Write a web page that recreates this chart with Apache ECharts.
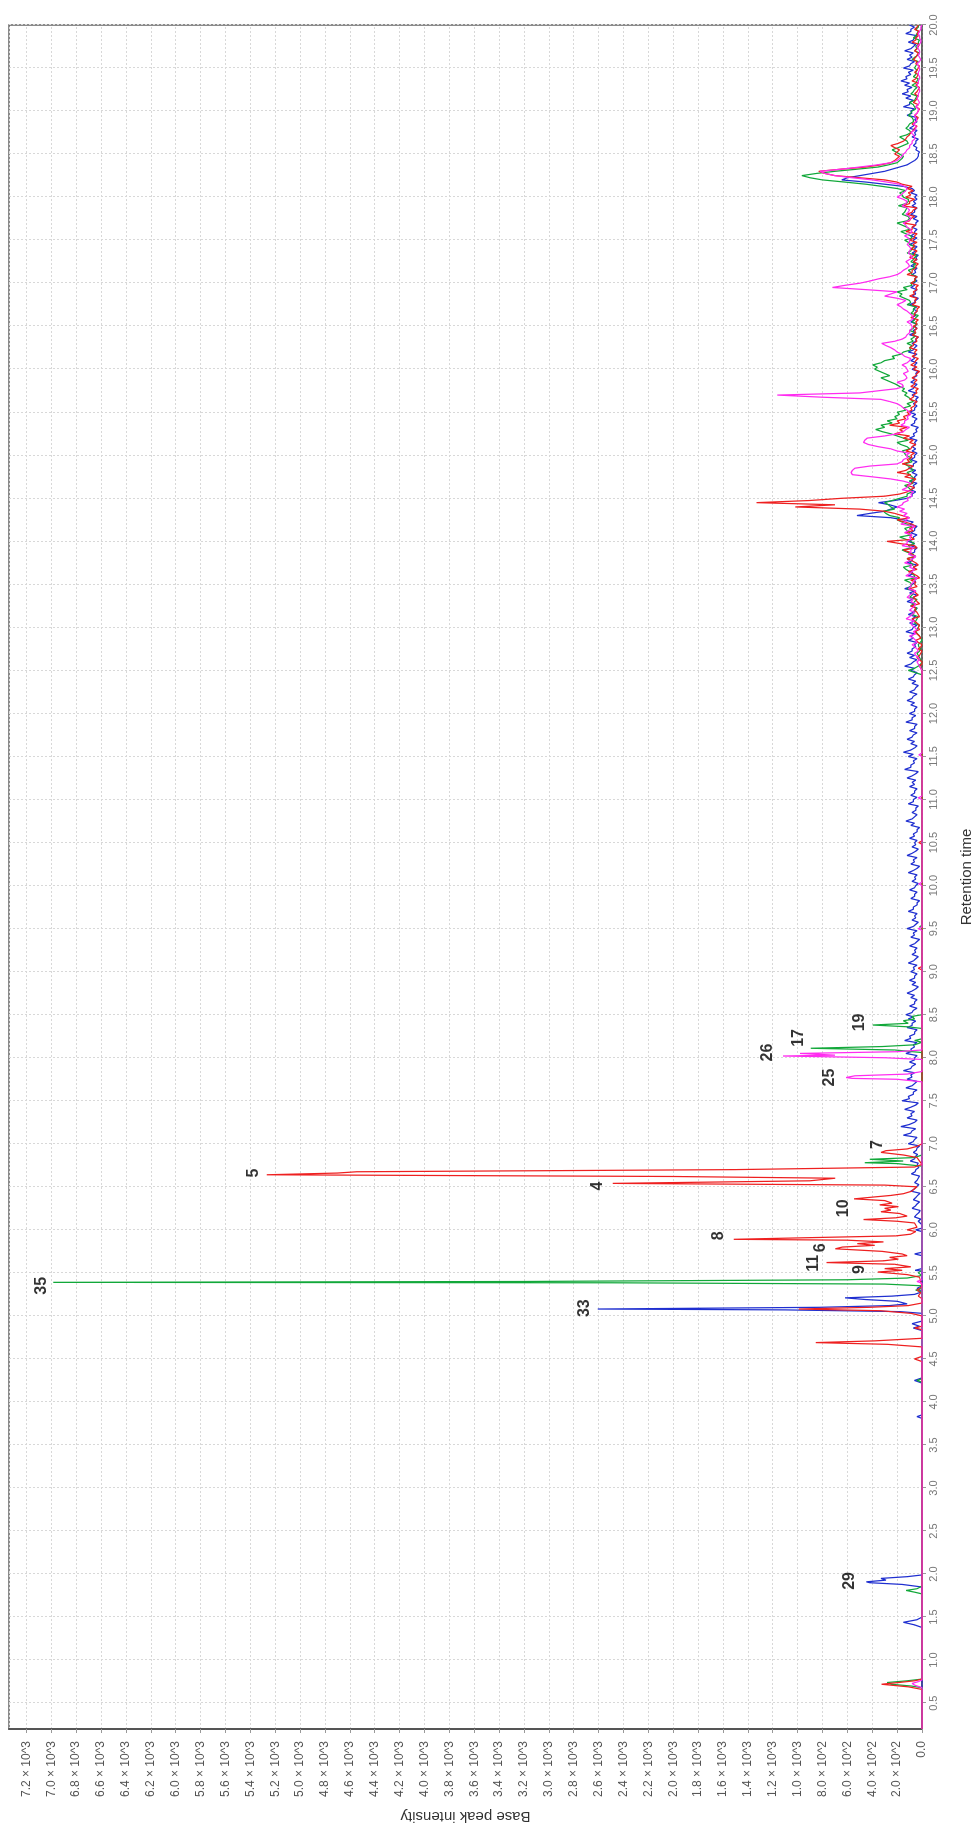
<!DOCTYPE html>
<html><head><meta charset="utf-8">
<script src="https://cdn.jsdelivr.net/npm/echarts@6/dist/echarts.min.js"></script>
<style>
html,body{margin:0;padding:0;background:#fff;overflow:hidden;width:979px;height:1832px}
#chart{position:absolute;left:0;top:0;width:1832px;height:979px;transform-origin:0 0;transform:translate(0,1832px) rotate(-90deg);}
</style></head><body><div id="chart"></div>
<script>
// ---------- axes ----------
const timeTicks = [0.5,1.0,1.5,2.0,2.5,3.0,3.5,4.0,4.5,5.0,5.5,6.0,6.5,7.0,7.5,8.0,8.5,9.0,9.5,10.0,
  10.5,11.0,11.5,12.0,12.5,13.0,13.5,14.0,14.5,15.0,15.5,16.0,16.5,17.0,17.5,18.0,18.5,19.0,19.5,20.0];
const timeMin = 0.2, timeMax = 20.0;
const intensityMax = 7340, intensityStep = 200;

// ---------- series: explicit [time, intensity] points ----------
const redPeaks = [
 [0.2,0],[0.66,0],[0.69,110],[0.72,325],[0.74,190],[0.76,60],[0.78,0],
 [4.47,0],[4.5,60],[4.53,0],
 [4.64,0],[4.67,280],[4.69,855],[4.71,380],[4.74,0],
 [4.84,0],[4.86,60],[4.88,0],
 [5.0,0],[5.03,90],[5.06,330],[5.08,990],[5.1,420],[5.12,110],[5.15,0],
 [5.2,0],[5.23,30],[5.27,10],[5.3,40],[5.34,0],
 [5.45,20],[5.48,120],[5.51,356],[5.53,160],[5.55,300],[5.57,90],
 [5.6,220],[5.62,768],[5.64,310],[5.66,190],[5.68,260],[5.7,120],
 [5.72,160],[5.75,320],[5.78,697],[5.8,640],[5.82,380],[5.84,520],[5.86,310],
 [5.88,600],[5.89,1513],[5.91,880],[5.93,210],[5.95,90],
 [5.98,50],[6.0,120],[6.03,40],
 [6.08,60],[6.1,200],[6.12,470],[6.14,210],[6.16,120],
 [6.19,180],[6.21,330],[6.23,250],[6.25,300],[6.27,190],[6.29,340],[6.31,240],
 [6.34,300],[6.36,546],[6.38,400],[6.4,250],[6.42,150],[6.45,80],[6.48,60],[6.5,40],
 [6.52,300],[6.54,2487],[6.57,900],[6.6,697],[6.62,2000],[6.64,5267],[6.66,4700],[6.675,4546],[6.7,1500],[6.73,60],
 [6.76,0],[6.84,40],[6.87,150],[6.9,330],[6.92,290],[6.94,120],[6.97,40],[7.0,0],
 [9.02,0],[9.04,30],[9.06,0],[10.48,0],[10.5,25],[10.52,0],[12.45,0]
];
const greenPeaks = [
 [0.2,0],[0.68,0],[0.7,90],[0.72,250],[0.74,280],[0.76,120],[0.78,0],
 [1.77,0],[1.79,60],[1.81,127],[1.83,40],[1.86,0],
 [4.23,0],[4.25,40],[4.27,0],
 [5.28,0],[5.3,50],[5.32,0],
 [5.35,0],[5.37,300],[5.385,2500],[5.39,6985],[5.40,3200],[5.42,600],[5.44,120],[5.47,0],
 [5.5,30],[5.53,0],
 [6.74,0],[6.77,200],[6.78,460],[6.8,150],[6.82,420],[6.84,60],[6.87,0],
 [8.06,0],[8.09,220],[8.11,895],[8.13,320],[8.15,60],[8.18,0],
 [8.2,60],[8.22,0],
 [8.34,0],[8.36,120],[8.38,396],[8.4,110],[8.43,150],[8.45,60],[8.48,80],[8.5,0],
 [9.5,0],[9.52,20],[9.54,0],[12.4,0],[12.45,0]
];
const bluePeaks = [
 [0.2,0],[1.38,0],[1.41,60],[1.44,150],[1.47,40],[1.5,0],
 [1.85,0],[1.88,160],[1.9,420],[1.91,447],[1.93,290],[1.95,330],[1.97,120],[1.99,0],
 [3.81,0],[3.83,40],[3.85,0],[4.22,0],[4.25,60],[4.28,0],
 [4.83,0],[4.86,70],[4.88,20],[4.91,80],[4.94,0],
 [5.03,0],[5.05,180],[5.07,1100],[5.08,2606],[5.1,820],[5.12,260],[5.14,120],[5.17,200],[5.19,450],[5.21,618],[5.23,240],[5.25,60],[5.28,0],
 [5.32,40],[5.35,0],[5.52,0],[5.53,55],[5.55,0],[5.7,0],[5.72,60],[5.74,0],[5.98,0],[6.0,50],[6.02,0],[6.06,0]
];
const magentaPeaks = [
 [0.2,0],[0.68,0],[0.71,60],[0.73,80],[0.75,30],[0.77,0],
 [5.38,0],[5.4,40],[5.42,0],
 [7.72,0],[7.75,200],[7.76,560],[7.77,610],[7.79,540],[7.81,120],[7.84,0],
 [7.98,0],[8.0,300],[8.02,1117],[8.03,700],[8.05,980],[8.07,200],[8.09,0],
 [9.48,0],[9.5,30],[9.52,0],[10.0,0],[10.02,25],[10.04,0],[11.0,0],[11.02,30],[11.04,0],[11.5,0],[11.52,25],[11.54,0],[12.45,0]
];

// ---------- noisy stretches: values on a 0.05-min grid, plus the in-between samples ----------
const noiseStep = 0.05;
const blueNoiseStart = 6.10;
const blueNoise = [
 30,60,25,80,40,70,35,90,45,60,30,85,50,40,95,55,70,40,110,60,
 150,80,170,60,120,90,140,50,160,110,70,130,60,120,90,150,80,100,60,130,
 90,70,140,100,60,120,80,110,130,70,100,60,90,120,50,80,100,60,90,70,
 110,50,80,60,100,40,90,70,120,50,80,60,110,70,40,90,60,100,50,80,
 60,110,40,90,70,120,50,80,60,100,70,40,90,130,60,80,50,110,70,90,
 60,100,80,120,50,140,90,70,110,150,60,90,120,70,100,60,130,80,100,60,
 90,120,70,100,50,80,110,60,90,140,70,100,120,80,60,110,90,130,70,100,
 80,110,60,90,120,70,100,140,80,60,110,90,70,120,80,100,60,90,110,70,
 90,60,100,150,523,300,200,350,120,80,90,70,100,60,80,110,70,90,60,80,
 80,60,100,70,50,90,60,80,100,60,70,50,80,110,60,90,70,50,80,60,
 90,70,110,60,80,50,100,70,60,90,80,60,70,100,50,80,60,90,70,60,
 80,60,90,70,50,80,60,100,70,90,60,80,50,70,90,60,80,70,60,90,
 80,300,645,500,300,180,90,40,30,50,70,50,80,60,100,70,60,120,90,150,
 100,130,160,120,140,170,130,110,150,90,120,100,140,70,110,60,130,90,100
];
const blueNoiseMid = [
 10,45,15,55,20,50,15,60,25,40,20,55,25,30,60,35,45,20,70,40,
 90,50,100,40,80,60,90,30,100,70,40,80,40,80,60,90,50,60,40,80,
 60,40,90,60,40,80,50,70,80,40,60,40,60,80,30,50,60,40,60,40,
 70,30,50,40,60,20,60,40,70,30,50,40,70,40,20,60,40,60,30,50,
 40,70,20,60,40,80,30,50,40,60,40,20,60,80,40,50,30,70,40,60,
 40,60,50,80,30,90,60,40,70,90,40,60,80,40,60,40,80,50,60,40,
 60,80,40,60,30,50,70,40,60,90,40,60,80,50,40,70,60,80,40,60,
 50,70,40,60,80,40,60,90,50,40,70,60,40,80,50,60,40,60,70,40,
 60,40,70,250,420,250,260,220,80,50,60,40,60,40,50,70,40,60,40,50,
 50,40,60,40,30,60,40,50,60,40,40,30,50,70,40,60,40,30,50,40,
 60,40,70,40,50,30,60,40,40,60,50,40,40,60,30,50,40,60,40,40,
 50,40,60,40,30,50,40,60,40,60,40,50,30,40,60,40,50,40,40,60,
 150,450,600,400,240,120,60,30,20,40,50,30,50,40,70,40,40,80,60,100,
 70,90,110,80,100,120,90,70,100,60,80,70,90,50,70,40,90,60
];
const lateNoiseStart = 12.50;
const redNoise = [
 0,20,0,40,10,30,0,50,20,60,30,40,80,30,60,90,40,70,50,100,
 60,90,40,110,70,50,120,80,150,60,280,90,130,100,80,200,160,300,1018,1331,
 650,180,90,120,70,140,200,100,160,120,90,130,80,100,150,220,180,260,200,150,
 120,90,60,100,70,50,90,60,80,40,70,90,50,80,60,100,70,50,80,60,
 70,50,90,60,40,80,60,100,70,50,90,60,120,80,50,70,100,60,90,70,
 100,60,130,80,150,90,120,70,160,100,130,110,120,160,300,700,830,450,250,200,
 220,180,250,150,120,90,60,80,40,60,30,50,70,40,60,30,50,80,40,60,
 30,50,70,40,60,30,80,50,40,60,30
];
const redNoiseMid = [
 10,0,20,20,0,10,30,10,40,20,20,60,20,40,50,20,50,30,60,40,
 50,20,70,40,30,80,50,100,40,180,60,90,70,50,140,100,220,500,700,900,
 300,120,60,80,50,90,130,70,100,80,60,90,50,70,100,150,120,180,130,100,
 80,60,40,70,40,30,60,40,50,20,40,60,30,50,40,70,40,30,50,40,
 40,30,60,40,20,50,40,60,40,30,60,40,80,50,30,40,60,40,60,40,
 60,40,80,50,100,60,80,40,100,60,90,70,80,200,500,780,650,330,220,180,
 200,220,190,130,100,70,40,50,30,40,20,30,50,30,40,20,30,50,30,40,
 20,40,50,30,40,20,50,30,20,40
];
const greenNoise = [
 110,30,0,20,40,10,30,0,20,50,30,60,40,80,50,90,60,100,70,120,
 80,140,60,100,150,90,120,70,160,110,90,180,100,140,120,200,260,310,250,300,
 180,120,90,140,100,80,120,90,140,100,130,160,120,200,150,250,372,330,280,220,
 200,150,120,90,140,160,180,250,330,300,380,396,300,240,150,100,120,90,70,100,
 60,80,50,90,70,120,100,180,200,150,90,60,80,110,70,90,60,120,80,100,
 140,90,170,120,200,100,160,130,190,110,150,180,200,450,800,966,700,350,200,160,
 180,240,150,120,180,90,130,100,70,110,80,60,100,50,90,60,80,40,70,50,
 60,40,80,30,60,50,30,70,40,50,30
];
const greenNoiseMid = [
 60,10,10,30,20,25,15,10,35,40,20,50,30,60,40,70,40,80,50,90,
 100,60,80,130,70,100,60,120,90,60,130,90,120,80,160,180,290,220,270,240,
 120,80,110,70,60,100,70,110,80,90,140,100,170,110,200,320,300,240,200,180,
 130,90,70,110,120,140,210,290,260,340,360,330,220,170,90,80,70,60,50,70,
 40,60,30,70,50,90,140,160,120,80,50,40,90,60,50,70,40,90,60,110,
 80,130,100,160,120,110,140,120,130,110,160,130,320,620,900,850,520,270,180,150,
 210,190,110,150,120,100,110,70,80,90,50,70,60,40,70,40,50,30,50,40,
 50,30,60,20,40,30,20,50,30,30
];
const magentaNoise = [
 0,20,40,30,60,40,80,50,100,70,60,90,127,80,100,60,90,120,70,110,
 90,60,130,80,100,140,70,110,90,160,120,100,140,80,170,130,150,180,200,150,
 120,90,160,110,150,400,570,540,200,150,130,200,350,471,440,200,130,170,140,120,
 100,150,200,330,1164,350,150,200,120,150,120,160,100,140,200,250,324,160,120,100,
 80,120,70,100,150,200,130,300,200,720,500,350,200,150,100,130,80,110,90,120,
 100,140,80,120,150,90,130,100,160,120,200,150,120,180,400,700,820,500,250,180,
 150,120,100,80,60,90,50,70,40,60,30,50,20,40,30,20,40,30,20,30,
 20,40,10,30,20,40,10,20,30,10,0
];
const magentaNoiseMid = [
 10,30,20,50,30,60,40,70,50,40,80,60,100,60,80,50,70,100,50,90,
 70,40,100,60,80,100,50,90,70,120,90,80,110,60,130,100,120,140,160,110,
 80,70,120,90,250,560,560,420,160,110,100,250,430,460,300,150,100,140,110,90,
 120,170,260,800,500,200,160,140,130,110,130,120,90,160,220,290,220,130,100,80,
 90,80,80,120,170,160,200,250,450,620,420,260,170,120,110,100,90,100,100,100,
 110,100,90,130,110,100,110,120,130,150,170,130,140,280,560,780,650,360,200,160,
 130,100,80,60,70,60,50,50,50,40,30,30,30,30,20,30,30,20,30,20,
 30,20,20,20,30,20,10,20,20,10
];

// ---------- peak annotations (label anchor in data units) ----------
const peakNames   = ['35','33','5','4','7','8','6','11','9','10','25','26','17','19','29'];
const peakTimes   = [5.35,5.09,6.66,6.51,6.99,5.93,5.79,5.61,5.54,6.25,7.77,8.06,8.23,8.41,1.92];
const peakHeights = [7080,2709,5370,2606,360,1639,816,871,499,634,744,1243,990,499,586];

const colors = {red:'#ee2020', green:'#12a83a', blue:'#1f2fd0', magenta:'#ff2cf0'};

function build(peaks, start, values, mids) {
  const pts = peaks.map(p => [p[0], p[1]]);
  values.forEach((v, i) => pts.push([Math.round((start + i * noiseStep) * 1000) / 1000, v]));
  mids.forEach((v, i) => pts.push([Math.round((start + noiseStep / 2 + i * noiseStep) * 1000) / 1000, v]));
  pts.sort((a, b) => a[0] - b[0]);
  return pts;
}
function lineSeries(name, data, color) {
  return {name, type:'line', data, symbol:'none', showSymbol:false, sampling:null,
    lineStyle:{color, width:1.25}, itemStyle:{color}, animation:false, silent:true};
}
function intensityLabel(v) {
  if (v === 0) return '0.0';
  if (v < 1000) return (v/100).toFixed(1) + ' \u00d7 10^2';
  return (v/1000).toFixed(1) + ' \u00d7 10^3';
}

const chart = echarts.init(document.getElementById('chart'));
chart.setOption({
  animation:false,
  backgroundColor:'#ffffff',
  grid:{left:90, right:25, top:9, bottom:44, show:true, borderColor:'#666', borderWidth:1.5, backgroundColor:'#fff'},
  xAxis:{
    type:'value', min:timeMin, max:timeMax,
    name:'Retention time', nameLocation:'middle', nameGap:37,
    nameTextStyle:{fontFamily:'Liberation Sans, Arial, sans-serif', fontSize:15, color:'#333'},
    axisLine:{show:true, onZero:false, lineStyle:{color:'#555', width:1.5}},
    axisTick:{show:true, length:4, customValues:timeTicks, lineStyle:{color:'#999'}},
    axisLabel:{customValues:timeTicks, formatter:v => Number(v).toFixed(1), fontSize:11, color:'#777', margin:6,
      fontFamily:'Liberation Sans, Arial, sans-serif'},
    splitLine:{show:true, lineStyle:{color:'#d8d8d8', type:[2,2], width:1}}
  },
  yAxis:{
    type:'value', min:0, max:intensityMax, interval:intensityStep,
    name:'Base peak intensity', nameLocation:'middle', nameGap:80, nameRotate:90,
    nameTextStyle:{fontFamily:'Liberation Sans, Arial, sans-serif', fontSize:15, color:'#333'},
    axisLine:{show:true, onZero:false, lineStyle:{color:'#555', width:2}},
    axisTick:{show:true, length:4, lineStyle:{color:'#999'}},
    axisLabel:{formatter:intensityLabel, fontSize:12, color:'#555', margin:12, showMaxLabel:false,
      fontFamily:'Liberation Sans, Arial, sans-serif'},
    splitLine:{show:true, lineStyle:{color:'#d8d8d8', type:[2,2], width:1}}
  },
  series:[
    lineSeries('blue', build(bluePeaks, blueNoiseStart, blueNoise, blueNoiseMid), colors.blue),
    lineSeries('green', build(greenPeaks, lateNoiseStart, greenNoise, greenNoiseMid), colors.green),
    lineSeries('red', build(redPeaks, lateNoiseStart, redNoise, redNoiseMid), colors.red),
    lineSeries('magenta', build(magentaPeaks, lateNoiseStart, magentaNoise, magentaNoiseMid), colors.magenta),
    {type:'scatter', data:peakNames.map((n,i)=>[peakTimes[i], peakHeights[i], n]), symbolSize:0, silent:true, z:10,
     label:{show:true, position:'inside', formatter:p => p.data[2], fontSize:16, fontWeight:'bold', color:'#000',
       fontFamily:'Liberation Sans, Arial, sans-serif'}}
  ]
});
</script></body></html>
